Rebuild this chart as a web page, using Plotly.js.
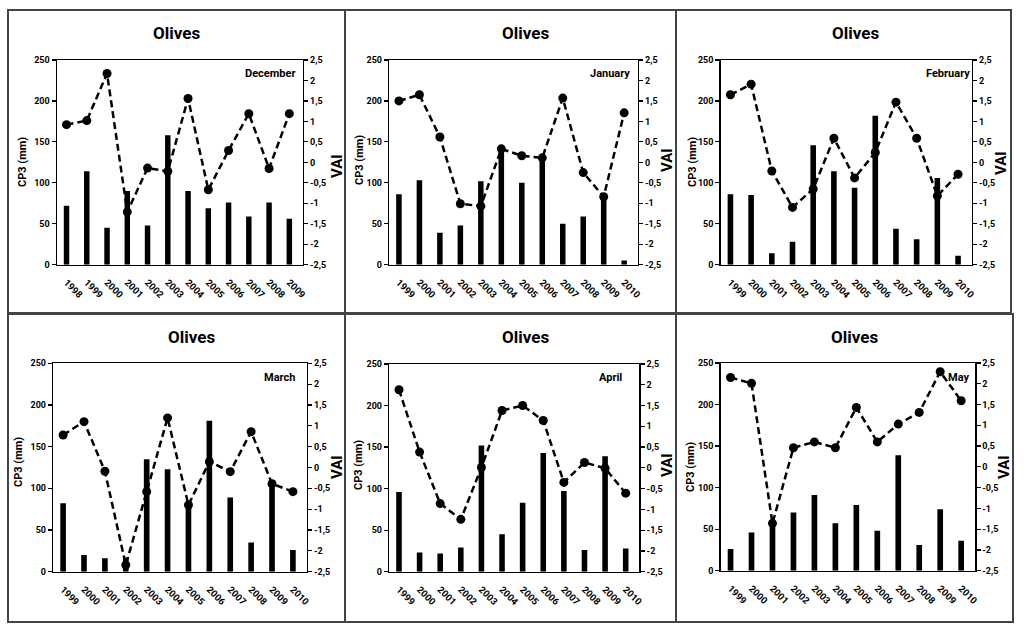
<!DOCTYPE html>
<html>
<head>
<meta charset="utf-8">
<script src="https://cdn.plot.ly/plotly-3.0.1.min.js"></script>
<style>html,body{margin:0;padding:0;background:#fff;}#chart{width:1024px;height:633px;}</style>
</head>
<body>
<div id="chart"></div>
<script>
// ---- data ----
const years1998 = ['1998','1999','2000','2001','2002','2003','2004','2005','2006','2007','2008','2009'];
const years1999 = ['1999','2000','2001','2002','2003','2004','2005','2006','2007','2008','2009','2010'];
const monthNames = ['December','January','February','March','April','May'];
const chartTitle = 'Olives';
const leftAxisTitle = 'CP3 (mm)';
const rightAxisTitle = 'VAI';

const cp3December = [72,114,45,90,48,158,90,69,76,59,76,56];
const vaiDecember = [0.92,1.02,2.17,-1.21,-0.14,-0.22,1.56,-0.67,0.29,1.19,-0.15,1.19];
const cp3January  = [86,103,39,48,102,141,100,130,50,59,85,5];
const vaiJanuary  = [1.50,1.65,0.62,-1.01,-1.07,0.33,0.16,0.11,1.57,-0.25,-0.84,1.21];
const cp3February = [86,85,14,28,146,114,94,182,44,31,106,11];
const vaiFebruary = [1.65,1.91,-0.21,-1.10,-0.65,0.59,-0.38,0.24,1.47,0.59,-0.82,-0.29];
const cp3March    = [82,20,16,17,135,123,81,181,89,35,106,26];
const vaiMarch    = [0.78,1.10,-0.09,-2.34,-0.58,1.19,-0.90,0.14,-0.10,0.86,-0.39,-0.58];
const cp3April    = [96,23,22,29,152,45,83,143,97,26,139,28];
const vaiApril    = [1.88,0.38,-0.86,-1.24,0.01,1.38,1.50,1.14,-0.35,0.13,-0.01,-0.61];
const cp3May      = [26,46,53,70,91,57,79,48,139,31,74,36];
const vaiMay      = [2.15,2.01,-1.36,0.46,0.60,0.46,1.43,0.60,1.03,1.31,2.29,1.59];

const cp3Ticks = [0,50,100,150,200,250];
const vaiTickVals = [-2.5,-2,-1.5,-1,-0.5,0,0.5,1,1.5,2,2.5];
const vaiTickText = ['-2,5','-2','-1,5','-1','-0,5','0','0,5','1','1,5','2','2,5'];

// ---- layout geometry (pixels in a 1024x633 page) ----
const W = 1024, H = 633;
const panels = [
  {years: years1998, cp3: cp3December, vai: vaiDecember, month: monthNames[0],
   plot: [57, 302.7, 60, 264.7], box: [8, 345, 10, 313], title: [176, 33], label: [270, 74],
   lt: [22, 162], rt: [337, 166]},
  {years: years1999, cp3: cp3January, vai: vaiJanuary, month: monthNames[1],
   plot: [389.3, 637.7, 60, 264.7], box: [345, 676, 10, 313], title: [525, 33], label: [610, 74],
   lt: [359, 160], rt: [667, 160]},
  {years: years1999, cp3: cp3February, vai: vaiFebruary, month: monthNames[2],
   plot: [720.7, 971.7, 60, 264.7], box: [676, 1011, 10, 313], title: [855, 33], label: [948, 74],
   lt: [692, 162], rt: [1001, 163]},
  {years: years1999, cp3: cp3March, vai: vaiMarch, month: monthNames[3],
   plot: [53.3, 306.7, 363.3, 571.7], box: [8, 345, 314, 622], title: [191, 337], label: [279, 377],
   lt: [18, 462], rt: [337, 467]},
  {years: years1999, cp3: cp3April, vai: vaiApril, month: monthNames[4],
   plot: [389.3, 639.3, 364, 571.7], box: [345, 676, 314, 622], title: [525, 337], label: [610, 378],
   lt: [358, 465], rt: [667, 465]},
  {years: years1999, cp3: cp3May, vai: vaiMay, month: monthNames[5],
   plot: [720.7, 975, 363, 570.7], box: [676, 1013, 314, 622], title: [854, 337], label: [958, 378],
   lt: [690, 467], rt: [1004, 467]}
];

const FONT = 'Liberation Sans Narrow, Roboto, Liberation Sans, sans-serif';
const traces = [];
const layout = {
  width: W, height: H,
  margin: {l: 0, r: 0, t: 0, b: 0},
  paper_bgcolor: '#ffffff', plot_bgcolor: 'rgba(0,0,0,0)',
  showlegend: false,
  font: {family: FONT, color: '#000'},
  shapes: [], annotations: []
};

function ann(text, px, py, size, angle) {
  return {
    text: text, xref: 'paper', yref: 'paper',
    x: px / W, y: 1 - py / H, xanchor: 'center', yanchor: 'middle',
    showarrow: false, textangle: angle || 0,
    font: {family: FONT, size: size, weight: 'bold'}
  };
}

panels.forEach((p, i) => {
  const n = i + 1;
  const xId = n === 1 ? 'x' : 'x' + n;
  const yL = 2 * n - 1, yR = 2 * n;
  const yLId = yL === 1 ? 'y' : 'y' + yL;
  const yRId = 'y' + yR;
  const xKey = n === 1 ? 'xaxis' : 'xaxis' + n;
  const yLKey = yL === 1 ? 'yaxis' : 'yaxis' + yL;
  const yRKey = 'yaxis' + yR;

  traces.push({
    type: 'bar', x: p.years, y: p.cp3, xaxis: xId, yaxis: yLId,
    marker: {color: '#000000', line: {width: 0}}, width: 0.27, hoverinfo: 'skip'
  });
  traces.push({
    type: 'scatter', mode: 'lines+markers', x: p.years, y: p.vai, xaxis: xId, yaxis: yRId,
    line: {color: '#000000', width: 2.5, dash: '7px,4px'},
    marker: {color: '#000000', size: 9}, hoverinfo: 'skip'
  });

  layout[xKey] = {
    domain: [p.plot[0] / W, p.plot[1] / W], anchor: yLId,
    type: 'category', range: [-0.47, 11.66],
    showline: true, linecolor: '#000', linewidth: 1.5, mirror: true,
    ticks: 'outside', ticklen: 7, tickcolor: 'rgba(0,0,0,0)',
    showgrid: false, zeroline: false,
    tickangle: 45, tickfont: {family: FONT, size: 9.5, weight: 'bold'}
  };
  layout[yLKey] = {
    domain: [1 - p.plot[3] / H, 1 - p.plot[2] / H], anchor: xId,
    range: [0, 250], tickvals: cp3Ticks,
    showline: true, linecolor: '#000', linewidth: 1.5,
    ticks: 'outside', ticklen: 4, tickwidth: 1.2, tickcolor: '#000',
    showgrid: false, zeroline: false,
    tickfont: {family: FONT, size: 9, weight: 'bold'}
  };
  layout[yRKey] = {
    domain: [1 - p.plot[3] / H, 1 - p.plot[2] / H], anchor: xId,
    overlaying: yLId, side: 'right',
    range: [-2.5, 2.5], tickvals: vaiTickVals, ticktext: vaiTickText,
    showline: true, linecolor: '#000', linewidth: 1.5,
    ticks: 'outside', ticklen: 4, tickwidth: 1.2, tickcolor: '#000',
    showgrid: false, zeroline: false,
    tickfont: {family: FONT, size: 9, weight: 'bold'}
  };

  layout.shapes.push({
    type: 'rect', xref: 'paper', yref: 'paper',
    x0: p.box[0] / W, x1: p.box[1] / W, y0: 1 - p.box[3] / H, y1: 1 - p.box[2] / H,
    line: {color: '#444', width: 2}, fillcolor: 'rgba(0,0,0,0)', layer: 'below'
  });
  layout.annotations.push(ann(chartTitle, p.title[0], p.title[1], 17, 0));
  layout.annotations.push(ann(p.month, p.label[0], p.label[1], 11, 0));
  layout.annotations.push(ann(leftAxisTitle, p.lt[0], p.lt[1], 11, -90));
  layout.annotations.push(ann(rightAxisTitle, p.rt[0], p.rt[1], 15, -90));
});

Plotly.newPlot('chart', traces, layout, {staticPlot: true, displayModeBar: false});
</script>
</body>
</html>
